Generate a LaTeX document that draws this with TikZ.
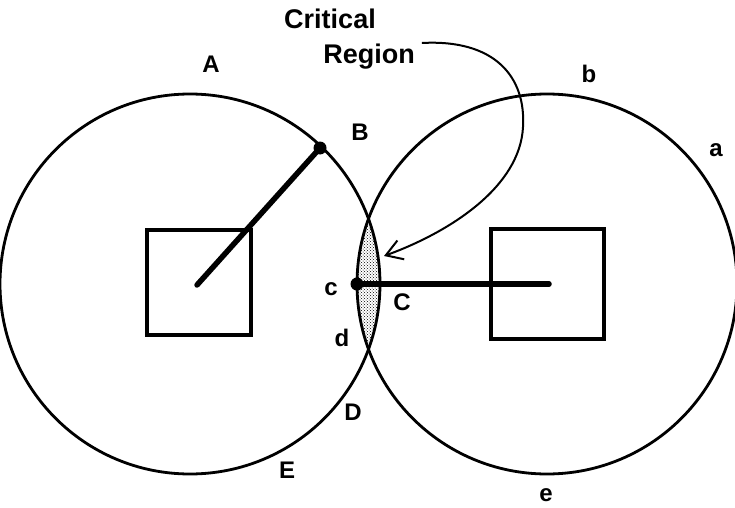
\documentclass[tikz,border=0pt]{standalone}
\usepackage{fontspec}
\setmainfont{Liberation Sans}
\usetikzlibrary{arrows.meta, patterns, positioning}

\begin{document}
\begin{tikzpicture}[
    x=1pt, y=1pt,
    zone/.style={line width=2.8pt},
    probe/.style={line width=3.2pt},
    arm/.style={line width=5.5pt, line cap=round},
    joint/.style={fill=black},
    tag/.style={font=\bfseries\fontsize{24}{27}\selectfont, inner sep=1pt},
    title/.style={font=\bfseries\fontsize{27}{30}\selectfont, inner sep=1pt},
    pointer/.style={line width=2pt, -{Straight Barb[length=16pt, width=20pt, line width=2pt]}}
    ]
    \useasboundingbox (0,0) rectangle (735,507);

    % --- Centres and joints ---
    \coordinate (left_centre) at (190,223);
    \coordinate (right_centre) at (547,223);
    \coordinate (left_tip) at (197,222);
    \coordinate (right_tip) at (549,223);
    \coordinate (joint_B) at (320,359);
    \coordinate (joint_c) at (357,223);

    % --- Critical region ---
    \begin{scope}
        \clip (left_centre) circle (190);
        \fill[pattern=crosshatch dots] (right_centre) circle (190);
    \end{scope}

    % --- Reach circles ---
    \draw[zone] (left_centre) circle (190);
    \draw[zone] (right_centre) circle (190);

    % --- Robot bases ---
    \draw[probe] (147,172) rectangle (251,277);
    \draw[probe] (491,168) rectangle (604,278);

    % --- Arms ---
    \draw[arm] (left_tip) -- (joint_B);
    \draw[arm] (joint_c) -- (right_tip);
    \fill[joint] (joint_B) circle (6.5);
    \fill[joint] (joint_c) circle (6.5);

    % --- Labels ---
    \node[title] (crit) at (330,488) {Critical};
    \node[title] (region) at (369,450) {Region};
    \node[tag] (lbl_A) at (211,443) {A};
    \node[tag] (lbl_B) at (360,375) {B};
    \node[tag] (lbl_b) at (589,433) {b};
    \node[tag] (lbl_a) at (716,357) {a};
    \node[tag] (lbl_c) at (331,218) {c};
    \node[tag] (lbl_C) at (402,205) {C};
    \node[tag] (lbl_d) at (342,169) {d};
    \node[tag] (lbl_D) at (353,95) {D};
    \node[tag] (lbl_E) at (287,37) {E};
    \node[tag] (lbl_e) at (546,12) {e};

    % --- Pointer ---
    \coordinate (loop_out) at (523,380);
    \coordinate (aim) at (384,251);
    \draw[pointer] ([xshift=6pt]region.east |- 0,464) .. controls (495,468) and (526,430) .. (loop_out)
        .. controls (520,320) and (450,275) .. (aim);

\end{tikzpicture}
\end{document}
